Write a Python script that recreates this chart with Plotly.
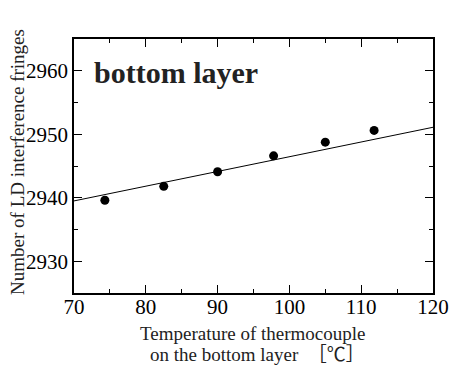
import plotly.graph_objects as go

temp_c = [74.3, 82.5, 90.0, 97.8, 105.0, 111.8]
fringes = [2939.6, 2941.8, 2944.1, 2946.6, 2948.75, 2950.6]
fit_x = [70, 120]
fit_y = [2939.5, 2951.1]
x_ticks = [70, 80, 90, 100, 110, 120]
y_ticks = [2930, 2940, 2950, 2960]
x_title_lines = ["Temperature of thermocouple", "on the bottom layer\u00a0 ［℃］"]
y_title = "Number of LD interference fringes"
panel_label = "bottom layer"

SERIF = "Liberation Serif, Times New Roman, Noto Sans CJK JP, serif"

fig = go.Figure()
fig.add_trace(go.Scatter(x=fit_x, y=fit_y, mode="lines",
                         line=dict(color="black", width=1), showlegend=False))
fig.add_trace(go.Scatter(x=temp_c, y=fringes, mode="markers",
                         marker=dict(color="black", size=9), showlegend=False))

axis_common = dict(showgrid=False, zeroline=False, showline=True, linecolor="black",
                   linewidth=1.5, mirror="ticks", ticks="inside", ticklen=8,
                   tickwidth=1.2, tickcolor="black", automargin=False,
                   ticklabeloverflow="allow",
                   tickfont=dict(family=SERIF, size=21, color="black"))

fig.update_xaxes(range=[70, 120], tickvals=x_ticks, ticktext=[str(v) for v in x_ticks],
                 minor=dict(dtick=5, ticklen=4, tickwidth=1.2, ticks="inside", tickcolor="black"),
                 ticklabelstandoff=-6,
                 **axis_common)
fig.update_yaxes(range=[2925, 2965], tickvals=y_ticks, ticktext=[str(v) for v in y_ticks],
                 minor=dict(dtick=5, tick0=2925, ticklen=4, tickwidth=1.2, ticks="inside", tickcolor="black"),
                 **axis_common)

title_font = dict(family=SERIF, size=19, color="#222")
fig.add_annotation(text=x_title_lines[0], xref="paper", yref="paper", x=0.4986, y=-0.16,
                   xanchor="center", yanchor="middle", showarrow=False, font=title_font)
fig.add_annotation(text=x_title_lines[1], xref="paper", yref="paper", x=0.512, y=-0.243,
                   xanchor="center", yanchor="middle", showarrow=False, font=title_font)
fig.add_annotation(text=y_title, xref="paper", yref="paper", x=-0.156, y=0.516,
                   xanchor="center", yanchor="middle", textangle=-90, showarrow=False,
                   font=title_font)

fig.add_annotation(text="<b>" + panel_label + "</b>", xref="paper", yref="paper",
                   x=0.05, y=0.87, xanchor="left", yanchor="middle", showarrow=False,
                   font=dict(family=SERIF, size=30, color="#222"))

fig.update_layout(width=449, height=365, margin=dict(l=74, r=16, t=39, b=72),
                  paper_bgcolor="white", plot_bgcolor="white")

fig.write_html("out.html")
